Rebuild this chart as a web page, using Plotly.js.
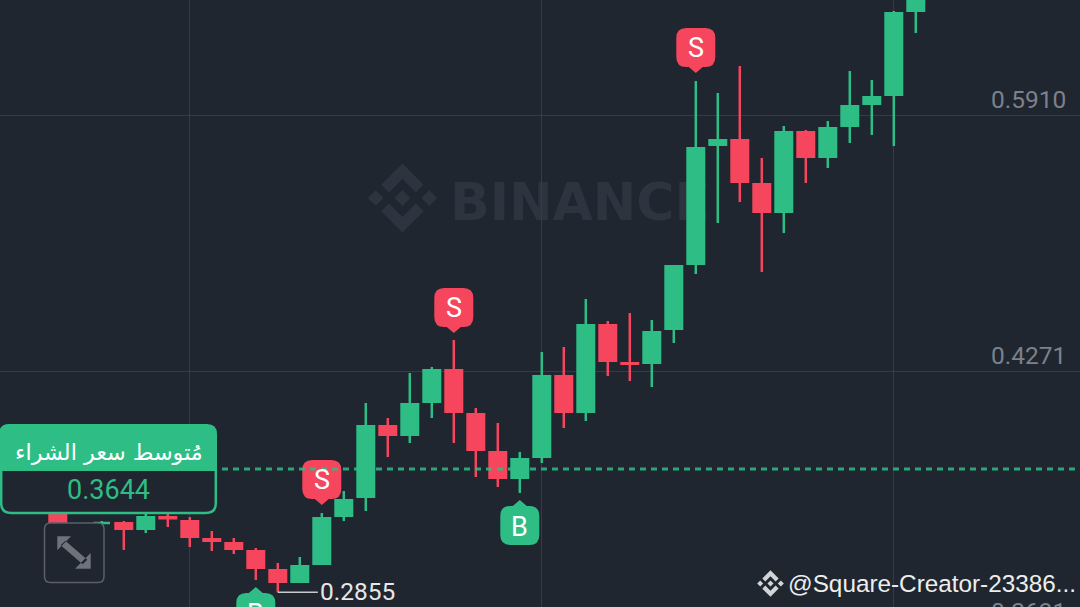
<!DOCTYPE html>
<html><head><meta charset="utf-8">
<script src="https://cdn.plot.ly/plotly-3.0.1.min.js"></script>
<style>html,body{margin:0;padding:0;background:#1f2630;overflow:hidden}</style>
</head><body><div id="chart" style="width:1080px;height:607px"></div>
<script>
const opens  = [.3413,.3253,.3291,.3304,.3253,.3343,.3317,.3202,.3176,.3125,.3003,.2914,.3029,.3336,.3458,.3925,.3855,.4066,.4284,.4002,.3759,.3580,.3714,.4245,.4002,.4572,.4329,.4316,.4534,.4950,.5712,.5756,.5475,.5283,.5808,.5635,.5833,.5974,.6032,.6569];
const closes = [.3298,.3285,.3304,.3253,.3343,.3320,.3202,.3176,.3125,.3003,.2914,.3029,.3336,.3451,.3925,.3855,.4066,.4284,.4002,.3759,.3580,.3714,.4245,.4002,.4572,.4329,.4309,.4527,.4950,.5705,.5756,.5475,.5283,.5808,.5635,.5833,.5974,.6032,.6569,.6710];
const highs  = [.3445,.3298,.3311,.3311,.3362,.3362,.3336,.3247,.3202,.3138,.3042,.3080,.3362,.3503,.4066,.3970,.4258,.4297,.4470,.4034,.3938,.3752,.4393,.4425,.4732,.4591,.4642,.4598,.4950,.6128,.6051,.6224,.5635,.5840,.5814,.5872,.6192,.6134,.6576,.6750];
const lows   = [.3298,.3234,.3291,.3125,.3234,.3272,.3144,.3119,.3099,.2933,.2855,.2914,.3029,.3311,.3375,.3720,.3810,.3970,.3810,.3592,.3528,.3490,.3682,.3906,.3951,.4239,.4207,.4169,.4450,.4892,.5219,.5353,.4905,.5155,.5475,.5571,.5731,.5782,.5712,.6435];
const candleIdx = opens.map((_, i) => i);
const yTickVals = [.2632, .4271, .5910];
const yTickText = ['0.2631', '0.4271', '0.5910'];
const xGridIdx = [6, 22, 38];
const avgBuy = 0.3644, lowestPrice = 0.2855;
const sellSignals = {idx:[12,18,29], tip:[.3413,.4514,.6179]};
const buySignals  = {idx:[9,21], tip:[.2888,.3445]};

const W = 1080, H = 607;
const BG = '#1f2630', GREEN = '#2EBD85', RED = '#F6465D', GRID = '#363c47', AXIS = '#7c818a';
const X0 = 57.8;
const yRange = [.27601, .66463], xRange = [-X0/22, (W-X0)/22];
const STROKE = 2.5;
const halfStrokePrice = (STROKE/2) * (yRange[1]-yRange[0]) / H;

// The candle outline straddles the body edge, so the drawn body is inset by half the stroke.
const inset = (o, c) => {
  const gap = Math.abs(o-c);
  if (gap <= 2*halfStrokePrice) { const m=(o+c)/2; return [m,m]; }
  return o < c ? [o+halfStrokePrice, c-halfStrokePrice] : [o-halfStrokePrice, c+halfStrokePrice];
};
const candle = {
  type:'candlestick', x:candleIdx,
  open:opens.map((o,i)=>inset(o,closes[i])[0]),
  close:closes.map((c,i)=>inset(opens[i],c)[1]),
  high:highs, low:lows, whiskerwidth:0, hoverinfo:'none', showlegend:false,
  increasing:{line:{color:GREEN,width:STROKE},fillcolor:GREEN},
  decreasing:{line:{color:RED,width:STROKE},fillcolor:RED}
};

// Decorative shapes use screen pixels, anchored to the paper's top-left corner.
const P = (x,y) => `${x},${-y}`;
const pxShape = (path, style, layer='above') => Object.assign({type:'path', xref:'paper', yref:'paper',
  xsizemode:'pixel', ysizemode:'pixel', xanchor:0, yanchor:1, path, layer, line:{width:0}}, style);
const roundRect = (x0,y0,x1,y1,r) =>
  `M${P(x0+r,y0)} L${P(x1-r,y0)} Q${P(x1,y0)} ${P(x1,y0+r)} L${P(x1,y1-r)} Q${P(x1,y1)} ${P(x1-r,y1)} L${P(x0+r,y1)} Q${P(x0,y1)} ${P(x0,y1-r)} L${P(x0,y0+r)} Q${P(x0,y0)} ${P(x0+r,y0)} Z`;
const logoPolys = [
  [[38.73,53.2],[63.32,28.62],[87.92,53.22],[102.22,38.91],[63.32,0],[24.43,38.9]],
  [[0,63.31],[14.3,49],[28.61,63.31],[14.3,77.61]],
  [[38.73,73.41],[63.32,98],[87.92,73.4],[102.23,87.69],[63.33,126.6],[24.42,87.72]],
  [[98.28,63.31],[112.58,49.01],[126.89,63.31],[112.59,77.62]],
  [[77.83,63.3],[63.32,48.78],[48.81,63.28],[63.32,77.78]]
];
const logo = (cx,cy,s,color,layer) => pxShape(
  logoPolys.map(p => 'M'+p.map(q=>P(+(cx+(q[0]-63.4)*s).toFixed(2),+(cy+(q[1]-63.3)*s).toFixed(2))).join(' L')+' Z').join(' '),
  {fillcolor:color}, layer);

// Signal bubbles: anchored on candle index and price, with the tail tip at the anchor.
const bubble = (idx,tip,dir,color) => {
  const d = dir; // -1: bubble above the tip, 1: below
  const a=6, b=45, w=19.5, r=10, t=7;
  const Y = v => -d*v; // pixel mode: positive is up
  const pt=(x,v)=>`${x},${Y(v)}`;
  const path = `M0,0 L${pt(t,a)} L${pt(w-r,a)} Q${pt(w,a)} ${pt(w,a+r)} L${pt(w,b-r)} Q${pt(w,b)} ${pt(w-r,b)} L${pt(-w+r,b)} Q${pt(-w,b)} ${pt(-w,b-r)} L${pt(-w,a+r)} Q${pt(-w,a)} ${pt(-w+r,a)} L${pt(-t,a)} Z`;
  return {type:'path', xref:'x', yref:'y', xsizemode:'pixel', ysizemode:'pixel', xanchor:idx, yanchor:tip, path, fillcolor:color, line:{width:0}, layer:'above'};
};

const shapes = [
  logo(402.5,198,0.545,'#2e343f','below'),
  {type:'rect', xref:'paper', yref:'paper', x0:451/W, x1:709/W, y0:1-230/H, y1:1-166/H, layer:'below', line:{width:0}, fillcolor:'rgba(0,0,0,0)',
   label:{text:'<b>BINANCE</b>', textposition:'middle center', font:{family:'DejaVu Sans', size:52, color:'#2e343f'}}},
  ...sellSignals.idx.map((x,i)=>bubble(x,sellSignals.tip[i],-1,RED)),
  ...buySignals.idx.map((x,i)=>bubble(x,buySignals.tip[i],1,GREEN)),
  {type:'line', xref:'paper', yref:'y', x0:222/W, x1:1, y0:avgBuy, y1:avgBuy, layer:'above', opacity:.85, line:{color:GREEN,width:3,dash:'6px,5px'}},
  {type:'line', xref:'x', yref:'y', x0:10, x1:11.82, y0:lowestPrice, y1:lowestPrice, layer:'above', line:{color:'#c8cacd',width:1.5}},
  pxShape(`M${P(1.2,465)} L${P(215.8,465)} L${P(215.8,503)} Q${P(215.8,513)} ${P(205.8,513)} L${P(11.2,513)} Q${P(1.2,513)} ${P(1.2,503)} Z`,{fillcolor:BG, line:{color:GREEN,width:2.5}}),
  pxShape(`M-1,-471 L-1,-434 Q-1,-424 9,-424 L207,-424 Q217,-424 217,-434 L217,-471 Z`,{fillcolor:GREEN}),
  pxShape(roundRect(44.5,523,104,582.5,6),{fillcolor:BG, line:{color:'#5b6069',width:1.5}}),
  pxShape(`M${P(57.3,536.3)} L${P(71,536.3)} L${P(57.3,550.3)} Z M${P(65.3,540.7)} L${P(87.3,559.7)} L${P(82.7,564.3)} L${P(60.7,545.3)} Z M${P(90.7,553)} L${P(90.7,568.7)} L${P(75,568.7)} Z`,{fillcolor:'#6e727b'}),
  logo(770.5,583.5,0.21,'#d2d4d7','above')
];

const yPaper = v => (v-yRange[0])/(yRange[1]-yRange[0]);
const text = (o) => Object.assign({showarrow:false, xref:'paper', yref:'paper', xanchor:'center', yanchor:'middle', borderpad:0}, o);
const annotations = [
  ...yTickVals.map((v,i)=>text({x:1066.5/W, y:yPaper(v), yshift:16, xanchor:'right', text:yTickText[i], font:{family:'Roboto',size:24.5,color:AXIS}})),
  ...sellSignals.idx.map((x,i)=>text({xref:'x', yref:'y', x, y:sellSignals.tip[i], yshift:25, text:'S', font:{family:'Roboto',size:27,color:'#ffffff'}})),
  ...buySignals.idx.map((x,i)=>text({xref:'x', yref:'y', x, y:buySignals.tip[i], yshift:-27, text:'B', font:{family:'Roboto',size:27,color:'#ffffff'}})),
  text({xref:'x', yref:'y', x:11.85, y:lowestPrice, yshift:1, xanchor:'left', text:'0.2855', font:{family:'Roboto',size:24.5,color:'#e6e7e9'}}),
  text({x:108.5/W, y:1-451.5/H, text:'مُتوسط سعر الشراء', font:{family:'DejaVu Sans',size:22.3,color:'#ffffff'}}),
  text({x:108/W, y:1-490.5/H, text:avgBuy.toFixed(4), font:{family:'Roboto',size:27,color:GREEN}}),
  text({x:787/W, y:1-583.5/H, xanchor:'left', text:'@Square-Creator-23386...', font:{family:'Liberation Sans',size:24.3,color:'#eceded'}})
];

const layout = {
  width:W, height:H, margin:{l:0,r:0,t:0,b:0,pad:0}, paper_bgcolor:BG, plot_bgcolor:'rgba(0,0,0,0)',
  showlegend:false, boxgap:0.25, boxgroupgap:0, dragmode:false, hovermode:false,
  xaxis:{type:'linear', range:xRange, rangeslider:{visible:false}, tickmode:'array', tickvals:xGridIdx, showticklabels:false, ticks:'', showgrid:true, gridcolor:GRID, gridwidth:1, zeroline:false, showline:false, fixedrange:true},
  yaxis:{type:'linear', range:yRange, tickmode:'array', tickvals:yTickVals, showticklabels:false, ticks:'', showgrid:true, gridcolor:GRID, gridwidth:1, zeroline:false, showline:false, fixedrange:true},
  shapes, annotations
};
Plotly.newPlot('chart',[candle],layout,{displayModeBar:false,responsive:false,staticPlot:true});
</script></body></html>
